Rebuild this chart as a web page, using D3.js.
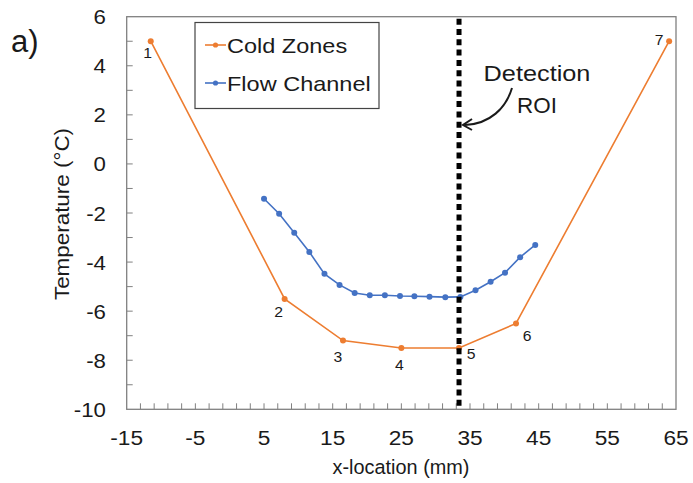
<!DOCTYPE html>
<html>
<head>
<meta charset="utf-8">
<script src="https://cdn.jsdelivr.net/npm/d3@7"></script>
<style>
  html, body { margin: 0; padding: 0; background: #fff; }
  svg { display: block; font-family: "Liberation Sans", Arial, sans-serif; }
</style>
</head>
<body>
<svg id="chart" width="693" height="483"></svg>
<script>
// Cold zone thermocouple positions (mm) and temperatures (°C)
const coldX = [-11.5, 8, 16.5, 25, 33.4, 41.7, 64];
const coldT = [5, -5.5, -7.2, -7.5, -7.5, -6.5, 5];
const coldLabels = ["1", "2", "3", "4", "5", "6", "7"];

// Flow channel temperature profile
const flowX = [5.0, 7.2, 9.4, 11.6, 13.8, 16.0, 18.2, 20.4, 22.6, 24.8, 26.9, 29.1, 31.4, 33.6, 35.8, 38.0, 40.1, 42.3, 44.5];
const flowT = [-1.42, -2.03, -2.80, -3.59, -4.48, -4.93, -5.26, -5.35, -5.35, -5.38, -5.39, -5.41, -5.43, -5.42, -5.15, -4.80, -4.43, -3.80, -3.30];

// Axis ticks
const xTickLabels = [-15, -5, 5, 15, 25, 35, 45, 55, 65];
const yTickLabels = [6, 4, 2, 0, -2, -4, -6, -8, -10];

// Detection region of interest
const roiX = 33.4;

const orange = "#ED7D31", blue = "#4472C4", axisGray = "#808080", ink = "#1a1a1a";

const svg = d3.select("#chart");
const plot = { left: 126.7, right: 676, top: 16.7, bottom: 409.3 };

const x = d3.scaleLinear().domain([-15, 65]).range([plot.left, plot.right]);
const y = d3.scaleLinear().domain([-10, 6]).range([plot.bottom, plot.top]);

// Text drawn slightly widened along its baseline
function label(parent, px, py, str, size, sx, anchor, rot) {
  return parent.append("text")
    .attr("transform", `translate(${px},${py})` + (rot ? ` rotate(${rot})` : "") + ` scale(${sx},1)`)
    .attr("text-anchor", anchor || "start")
    .attr("font-size", size).attr("fill", ink)
    .text(str);
}

// Minor tick marks pointing into the plot
const xMinor = d3.range(-13, 64, 2);
svg.append("g").selectAll("line").data(xMinor).join("line")
  .attr("x1", d => x(d)).attr("x2", d => x(d))
  .attr("y1", plot.bottom).attr("y2", plot.bottom - 6)
  .attr("stroke", axisGray).attr("stroke-width", 1);

const yMinor = d3.range(-9, 6, 1);
svg.append("g").selectAll("line").data(yMinor).join("line")
  .attr("x1", plot.left).attr("x2", plot.left + 6)
  .attr("y1", d => y(d)).attr("y2", d => y(d))
  .attr("stroke", axisGray).attr("stroke-width", 1);

// Plot frame
svg.append("rect")
  .attr("x", plot.left).attr("y", plot.top)
  .attr("width", plot.right - plot.left).attr("height", plot.bottom - plot.top)
  .attr("fill", "none").attr("stroke", axisGray).attr("stroke-width", 1.3);

// Tick labels
const gx = svg.append("g");
xTickLabels.forEach(v => label(gx, x(v), 445, v, 21, 1.08, "middle"));
const gy = svg.append("g");
yTickLabels.forEach(v => label(gy, 106, y(v) + 7.5, v, 21, 1.06, "end"));

// Axis titles
label(svg, 401, 474, "x-location (mm)", 19.5, 1.02, "middle");
label(svg, 69, 214, "Temperature (°C)", 19.5, 1.15, "middle", -90);

// Panel letter
label(svg, 11, 52, "a)", 31, 1, "start");

const line = d3.line().x(d => x(d[0])).y(d => y(d[1]));

// Cold zones series
const cold = coldX.map((v, i) => [v, coldT[i]]);
svg.append("path").datum(cold).attr("d", line)
  .attr("fill", "none").attr("stroke", orange).attr("stroke-width", 1.6);
svg.append("g").selectAll("circle").data(cold).join("circle")
  .attr("cx", d => x(d[0])).attr("cy", d => y(d[1])).attr("r", 3)
  .attr("fill", orange);

// Flow channel series
const flow = flowX.map((v, i) => [v, flowT[i]]);
svg.append("path").datum(flow).attr("d", line)
  .attr("fill", "none").attr("stroke", blue).attr("stroke-width", 1.6);
svg.append("g").selectAll("circle").data(flow).join("circle")
  .attr("cx", d => x(d[0])).attr("cy", d => y(d[1])).attr("r", 3)
  .attr("fill", blue);

// Cold zone numbers, placed relative to each point
const labelOffsets = [[-3, 17], [-6, 18], [-5, 21], [-2, 22], [12, 11], [11, 18], [-10, 4]];
const gn = svg.append("g");
cold.forEach((d, i) => label(gn, x(d[0]) + labelOffsets[i][0], y(d[1]) + labelOffsets[i][1],
  coldLabels[i], 15, 1.05, "middle"));

// Detection ROI marker
svg.append("line")
  .attr("x1", x(roiX)).attr("x2", x(roiX))
  .attr("y1", plot.top + 2).attr("y2", plot.bottom)
  .attr("stroke", "#000").attr("stroke-width", 5)
  .attr("stroke-dasharray", "6,4.3");

label(svg, 537, 81, "Detection", 22, 1.15, "middle");
label(svg, 537, 113, "ROI", 22, 1.02, "middle");

// Curved arrow pointing at the ROI line
svg.append("path")
  .attr("d", "M512,88 C506,108 490,124 465,125")
  .attr("fill", "none").attr("stroke", ink).attr("stroke-width", 2);
svg.append("path")
  .attr("d", "M472,119 L463,125 L472,130")
  .attr("fill", "none").attr("stroke", ink).attr("stroke-width", 2)
  .attr("stroke-linejoin", "miter");

// Legend
const legend = svg.append("g");
legend.append("rect").attr("x", 195).attr("y", 22.5).attr("width", 184).attr("height", 86)
  .attr("fill", "#fff").attr("stroke", "#444").attr("stroke-width", 1.2);
const legendItems = [
  { name: "Cold Zones", color: orange, yy: 45 },
  { name: "Flow Channel", color: blue, yy: 83 }
];
legendItems.forEach(it => {
  legend.append("line").attr("x1", 205).attr("x2", 226)
    .attr("y1", it.yy).attr("y2", it.yy)
    .attr("stroke", it.color).attr("stroke-width", 1.6);
  legend.append("circle").attr("cx", 215.5).attr("cy", it.yy).attr("r", 2.6)
    .attr("fill", it.color);
  label(legend, 227, it.yy + 7.5, it.name, 21, 1.12, "start");
});
</script>
</body>
</html>
